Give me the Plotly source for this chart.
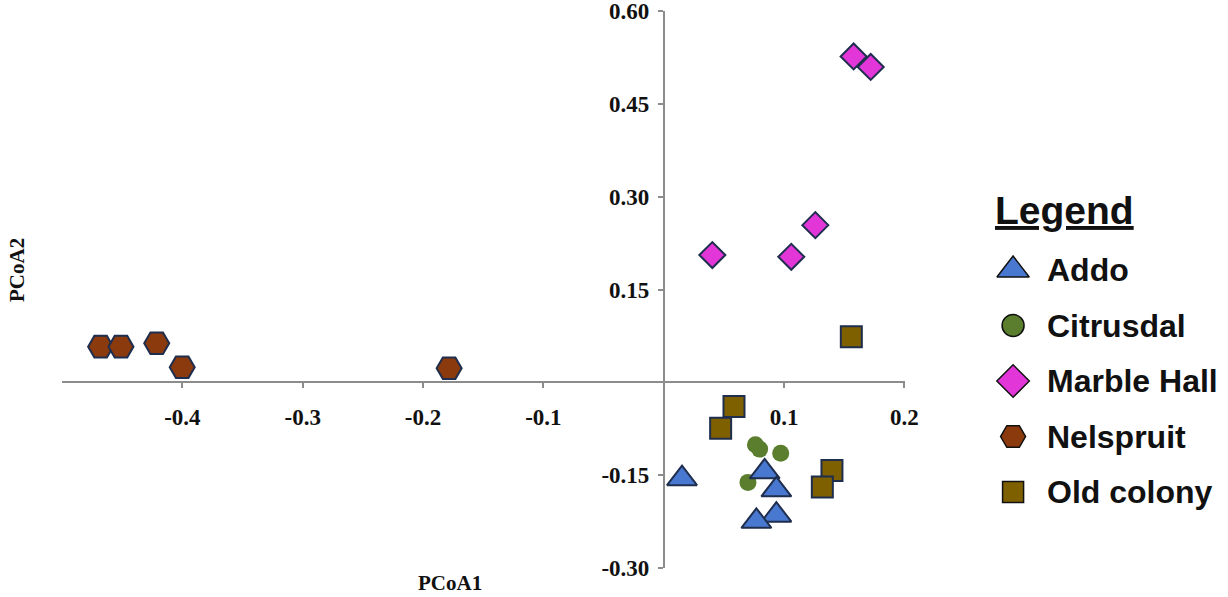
import plotly.graph_objects as go

# ---- data ----
groups = ["Addo", "Citrusdal", "Marble Hall", "Nelspruit", "Old colony"]

addo_x = [0.0152, 0.0839, 0.0936, 0.0936, 0.0770]
addo_y = [-0.156, -0.145, -0.174, -0.215, -0.225]

citrusdal_x = [0.0762, 0.0797, 0.0972, 0.0700]
citrusdal_y = [-0.1013, -0.1082, -0.1147, -0.1620]

marble_x = [0.0404, 0.1060, 0.1260, 0.1578, 0.1720]
marble_y = [0.2057, 0.2029, 0.2541, 0.5270, 0.5100]

nelspruit_x = [-0.4679, -0.4510, -0.4213, -0.4001, -0.1783]
nelspruit_y = [0.0575, 0.0575, 0.0630, 0.0242, 0.0226]

oldcolony_x = [0.1559, 0.0584, 0.0473, 0.1398, 0.1318]
oldcolony_y = [0.0737, -0.0394, -0.0743, -0.1428, -0.1696]

x_tickvals = [-0.4, -0.3, -0.2, -0.1, 0.1, 0.2]
x_ticktext = ["-0.4", "-0.3", "-0.2", "-0.1", "0.1", "0.2"]
y_tickvals = [-0.30, -0.15, 0.15, 0.30, 0.45, 0.60]
y_ticktext = ["-0.30", "-0.15", "0.15", "0.30", "0.45", "0.60"]

# ---- styles ----
colors = {
    "Addo": "#4878CF",
    "Citrusdal": "#5A7E2E",
    "Marble Hall": "#E236D8",
    "Nelspruit": "#8A3A0C",
    "Old colony": "#7F6000",
}
symbols = {
    "Addo": "triangle-up",
    "Citrusdal": "circle",
    "Marble Hall": "diamond",
    "Nelspruit": "hexagon2",
    "Old colony": "square",
}
plot_sizes = {"Addo": 26, "Citrusdal": 17, "Marble Hall": 20, "Nelspruit": 25, "Old colony": 21}
legend_sizes = {"Addo": 28, "Citrusdal": 22, "Marble Hall": 25, "Nelspruit": 25, "Old colony": 21}
edge = "#1F2E4E"

series = {
    "Citrusdal": (citrusdal_x, citrusdal_y),
    "Addo": (addo_x, addo_y),
    "Old colony": (oldcolony_x, oldcolony_y),
    "Marble Hall": (marble_x, marble_y),
    "Nelspruit": (nelspruit_x, nelspruit_y),
}

fig = go.Figure()
for name, (xs, ys) in series.items():
    lw = 0 if name == "Citrusdal" else 2
    fig.add_trace(go.Scatter(
        x=xs, y=ys, mode="markers", name=name, showlegend=False,
        marker=dict(symbol=symbols[name], size=plot_sizes[name], color=colors[name],
                    line=dict(color=edge, width=lw)),
        xaxis="x", yaxis="y",
    ))

# ---- custom legend drawn on a side axis ----
leg_marker_x = 1.39
leg_text_x = 2.70
for i, name in enumerate(groups):
    fig.add_trace(go.Scatter(
        x=[leg_marker_x], y=[-i], mode="markers", showlegend=False, hoverinfo="skip",
        marker=dict(symbol=symbols[name], size=legend_sizes[name], color=colors[name],
                    line=dict(color="#111111", width=1.5)),
        xaxis="x2", yaxis="y2",
    ))
    fig.add_annotation(x=leg_text_x, y=-i, xref="x2", yref="y2", text="<b>%s</b>" % name,
                       showarrow=False, xanchor="left", yanchor="middle",
                       font=dict(family="Liberation Sans", size=32, color="#111111"))
fig.add_annotation(x=0.55, y=1.08, xref="x2", yref="y2", text="<b><u>Legend</u></b>",
                   showarrow=False, xanchor="left", yanchor="middle",
                   font=dict(family="Liberation Sans", size=39, color="#111111"))

# ---- axis titles ----
title_font = dict(family="Liberation Serif", size=21, color="#111111", weight="bold")
fig.add_annotation(x=0.334, y=-0.027, xref="paper", yref="paper", text="PCoA1",
                   showarrow=False, xanchor="center", yanchor="middle", font=title_font)
fig.add_annotation(x=-0.0388, y=0.535, xref="paper", yref="paper", text="PCoA2",
                   showarrow=False, xanchor="center", yanchor="middle", textangle=-90,
                   font=title_font)

x_lo, x_hi = -0.5, 0.2005
y_lo, y_hi = -0.3005, 0.6005
x_dom_hi = 0.7261
tick_font = dict(family="Liberation Serif", size=23, color="#111111", weight="bold")
axis_col = "#8C8C8C"

fig.update_layout(
    width=1228, height=597,
    margin=dict(l=62, r=5, t=11, b=29, autoexpand=False),
    paper_bgcolor="white", plot_bgcolor="white",
    xaxis=dict(domain=[0, x_dom_hi], range=[x_lo, x_hi], anchor="free",
               position=(0 - y_lo) / (y_hi - y_lo),
               tickvals=x_tickvals, ticktext=x_ticktext, tickfont=tick_font,
               showgrid=False, zeroline=False, showline=True, linecolor=axis_col, linewidth=1.5,
               ticks="outside", ticklen=5, tickcolor=axis_col, tickwidth=1.5,
               ticklabelstandoff=9, automargin=False, ticklabeloverflow="allow"),
    yaxis=dict(domain=[0, 1], range=[y_lo, y_hi], anchor="free",
               position=x_dom_hi * (0 - x_lo) / (x_hi - x_lo),
               tickvals=y_tickvals, ticktext=y_ticktext, tickfont=tick_font,
               showgrid=False, zeroline=False, showline=True, linecolor=axis_col, linewidth=1.5,
               ticks="outside", ticklen=5, tickcolor=axis_col, tickwidth=1.5,
               ticklabelstandoff=4, automargin=False, ticklabeloverflow="allow"),
    xaxis2=dict(domain=[0.79, 1.0], range=[0, 10], visible=False, anchor="y2",
                fixedrange=True, automargin=False),
    yaxis2=dict(domain=[0, 1], range=[-5.37, 4.67], visible=False, anchor="x2",
                fixedrange=True, automargin=False),
    showlegend=False,
)

fig.write_html("out.html", config={"displayModeBar": False},
               post_script="document.body.style.margin='0';document.body.style.overflow='hidden';")
